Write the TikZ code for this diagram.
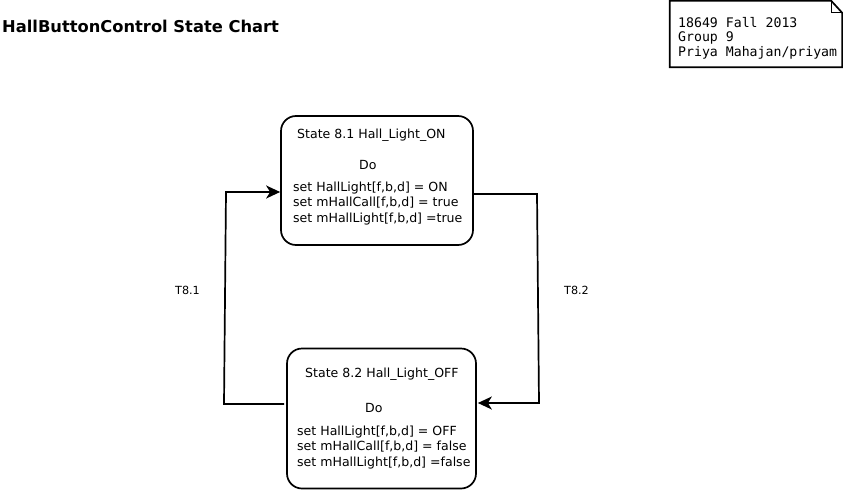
\documentclass[tikz,border=0pt]{standalone}
\usepackage{fontspec}
\setmainfont{DejaVu Sans}
\newfontfamily\notefont{DejaVu Sans Mono}
\usetikzlibrary{arrows.meta}
\tikzset{
  statebox/.style={draw=black, line width=1.7pt, rounded corners=15pt, inner sep=0pt},
  boxtext/.style={inner sep=0pt, anchor=base west, font=\fontsize{12.55}{15}\selectfont},
  dotext/.style={inner sep=0pt, anchor=base west, font=\fontsize{12.55}{15}\selectfont},
  notetext/.style={inner sep=0pt, anchor=base west, font=\notefont\fontsize{13.2}{14}\selectfont},
  trlabel/.style={inner sep=0pt, anchor=base west, font=\fontsize{11.2}{13}\selectfont},
  conn/.style={draw=black, line width=1.7pt},
  arr/.style={-{Stealth[length=14pt,width=13pt,inset=4pt]}}
}
\begin{document}
\begin{tikzpicture}[x=1pt,y=-1pt]
\useasboundingbox (0,0) rectangle (843,490);
% title
\node[inner sep=0pt, anchor=base west, font=\bfseries\fontsize{16.3}{19}\selectfont] (title) at (2,32) {HallButtonControl State Chart};
% note
\node[inner sep=0pt, minimum width=172pt, minimum height=66pt] (note) at (756,34) {};
\draw[line width=1.7pt] (note.north west) -- ([xshift=-11pt]note.north east) -- ([yshift=-12pt]note.north east) -- (note.south east) -- (note.south west) -- cycle;
\draw[line width=1.2pt] ([xshift=-11pt]note.north east) -- ([xshift=-11pt,yshift=-12pt]note.north east) -- ([yshift=-12pt]note.north east);
\node[notetext] (n1) at (678,27.5) {18649 Fall 2013};
\node[notetext] (n2) at (678,41.8) {Group 9};
\node[notetext] (n3) at (678,56) {Priya Mahajan/priyam};
% state 8.1
\node[statebox, minimum width=192pt, minimum height=129pt] (s1) at (377,180.5) {};
\node[boxtext] (s1t) at (297,138) {State 8.1 Hall\_Light\_ON};
\node[dotext] (s1d) at (359,169) {Do};
\node[boxtext] (s1a) at (293,191) {set HallLight[f,b,d] = ON};
\node[boxtext] (s1b) at (293,206.5) {set mHallCall[f,b,d] = true};
\node[boxtext] (s1c) at (293,222) {set mHallLight[f,b,d] =true};
% state 8.2
\node[statebox, minimum width=189pt, minimum height=140pt] (s2) at (381.5,418.5) {};
\node[boxtext] (s2t) at (305,377) {State 8.2 Hall\_Light\_OFF};
\node[dotext] (s2d) at (365,412) {Do};
\node[boxtext] (s2a) at (297,435) {set HallLight[f,b,d] = OFF};
\node[boxtext] (s2b) at (297,450.5) {set mHallCall[f,b,d] = false};
\node[boxtext] (s2c) at (297,466) {set mHallLight[f,b,d] =false};
% connectors
\coordinate (l1) at (224,404);
\coordinate (l2) at (226,192);
\coordinate (r1) at (537,194);
\coordinate (r2) at (539,403);
\draw[conn, arr] ([xshift=-2pt]s2.west |- l1) -- (l1) -- (l2) -- (s1.west |- l2);
\draw[conn, arr] (s1.east |- r1) -- (r1) -- (r2) -- ([xshift=1pt]s2.east |- r2);
\node[trlabel] (t1) at (175,294) {T8.1};
\node[trlabel] (t2) at (564,294) {T8.2};
\end{tikzpicture}
\end{document}
